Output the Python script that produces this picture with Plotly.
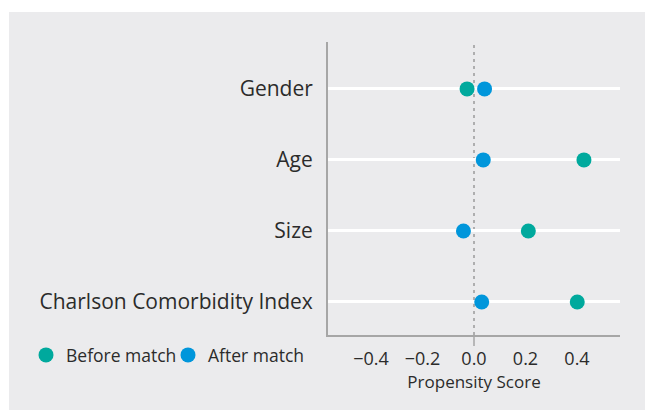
import plotly.graph_objects as go

categories = ["Charlson Comorbidity Index", "Size", "Age", "Gender"]
before_match = [0.401, 0.211, 0.427, -0.027]
after_match = [0.030, -0.041, 0.036, 0.041]
x_tickvals = [-0.4, -0.2, 0.0, 0.2, 0.4]
x_ticktext = ["\u22120.4", "\u22120.2", "0.0", "0.2", "0.4"]

TEAL = "#00A99D"
BLUE = "#0096DB"
BG = "#EBEBED"
AXIS = "#A6A6A6"
TXT = "#2B2B2B"
FONT = "Open Sans"

W, H = 645, 410
ML, MR, MT, MB = 328, 25, 42, 75
PW, PH = W - ML - MR, H - MT - MB

fig = go.Figure()
fig.add_trace(go.Scatter(x=before_match, y=categories, mode="markers", name="Before match",
                         marker=dict(color=TEAL, size=15), legend="legend"))
fig.add_trace(go.Scatter(x=after_match, y=categories, mode="markers", name="After match",
                         marker=dict(color=BLUE, size=15), legend="legend2"))

shapes = [
    # white outer margins (top and left)
    dict(type="rect", xref="paper", yref="paper", x0=-ML / PW - 0.1, x1=(9 - ML) / PW,
         y0=-MB / PH - 0.1, y1=1 + MT / PH + 0.1, fillcolor="white", line_width=0, layer="below"),
    dict(type="rect", xref="paper", yref="paper", x0=-ML / PW - 0.1, x1=1 + MR / PW + 0.1,
         y0=1 + (MT - 12) / PH, y1=1 + MT / PH + 0.1, fillcolor="white", line_width=0, layer="below"),
    # zero reference line
    dict(type="line", xref="x", yref="paper", x0=0, x1=0, y0=0, y1=1,
         line=dict(color="#9A9A9A", width=1.5, dash="3px,4px"), layer="below"),
    # zero tick
    dict(type="line", xref="x", yref="paper", x0=0, x1=0, y0=0, y1=-11 / PH,
         line=dict(color=AXIS, width=1.5)),
]

leg_common = dict(orientation="h", xanchor="left", y=-20 / PH, yanchor="middle",
                  font=dict(size=17.5, color=TXT), bgcolor="rgba(0,0,0,0)", itemwidth=30)

fig.update_layout(
    width=W, height=H,
    margin=dict(l=ML, r=MR, t=MT, b=MB),
    paper_bgcolor=BG, plot_bgcolor=BG,
    font=dict(family=FONT, color=TXT),
    shapes=shapes,
    showlegend=True,
    legend=dict(x=(26 - ML) / PW, **leg_common),
    legend2=dict(x=(168 - ML) / PW, **leg_common),
    xaxis=dict(range=[-0.567, 0.567], tickvals=x_tickvals, ticktext=x_ticktext,
               showgrid=False, zeroline=False, showline=True, linecolor=AXIS, linewidth=2,
               ticks="outside", ticklen=6, tickcolor="rgba(0,0,0,0)",
               tickfont=dict(size=18, color=TXT),
               title=dict(text="Propensity Score", font=dict(size=17, color=TXT), standoff=0)),
    yaxis=dict(categoryorder="array", categoryarray=categories, range=[-0.465, 3.66],
               showgrid=True, gridcolor="white", gridwidth=3, zeroline=False,
               showline=True, linecolor=AXIS, linewidth=2,
               ticks="outside", ticklen=9, tickcolor="rgba(0,0,0,0)",
               tickfont=dict(size=21, color=TXT)),
)

fig.write_html("out.html", config={"displayModeBar": False},
               post_script="document.body.style.margin='0';document.body.style.overflow='hidden';"
                           "document.documentElement.style.overflow='hidden';"
                           "document.body.style.background='" + BG + "';"
                           "document.documentElement.style.background='" + BG + "';")
